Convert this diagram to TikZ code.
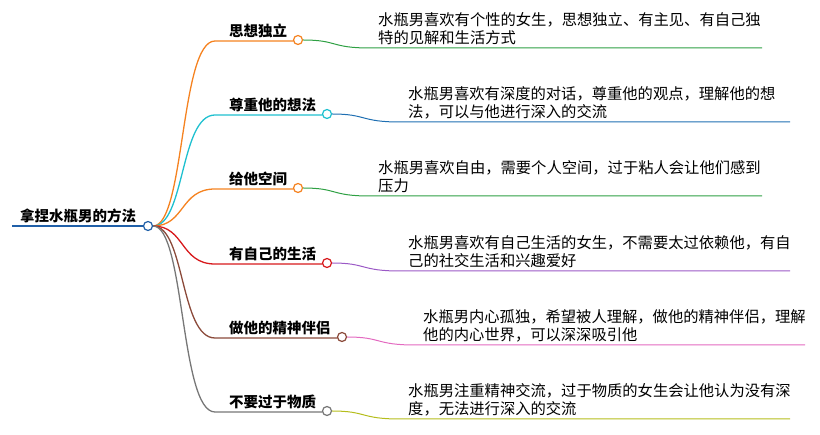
\documentclass[tikz,border=0pt]{standalone}
\usepackage{fontspec}
\setmainfont{Noto Sans CJK SC}
\definecolor{cor}{HTML}{F58220}
\definecolor{ccy}{HTML}{1EC0CF}
\definecolor{crd}{HTML}{D7191C}
\definecolor{cbr}{HTML}{8B4A3A}
\definecolor{cgy}{HTML}{777777}
\definecolor{cgr}{HTML}{2EA043}
\definecolor{cbl}{HTML}{1F6FB2}
\definecolor{cpu}{HTML}{9B59C6}
\definecolor{cpk}{HTML}{E36AC0}
\definecolor{col}{HTML}{B5BD1C}
\definecolor{croot}{HTML}{1F5FA8}
\begin{document}
\begin{tikzpicture}[x=1pt,y=-1pt,
  lab/.style={font=\fontsize{14.5}{14.5}\selectfont\bfseries, anchor=south west, inner sep=1pt},
  det/.style={font=\fontsize{15.3}{18}\selectfont, anchor=south west, align=left, inner sep=0pt},
  dot/.style={circle, draw=#1, fill=white, line width=1.2pt, minimum size=9pt, inner sep=0pt}]
\useasboundingbox (0,0) rectangle (820,435);
\node[font=\fontsize{14.5}{14.5}\selectfont\bfseries, anchor=south west, inner sep=1pt] (root) at (19,224) {拿捏水瓶男的方法};
\draw[croot, line width=2.5pt] (12,226) -- (144,226);
\node[dot=croot] (rc) at (148,226) {};
\foreach \i/\y/\cx/\bc/\lc/\ls/\le/\lab/\txt in {
 1/40/298/cor/cgr/370/762/思想独立/{水瓶男喜欢有个性的女生，思想独立、有主见、有自己独\\特的见解和生活方式},
 2/114/327/ccy/cbl/400/790/尊重他的想法/{水瓶男喜欢有深度的对话，尊重他的观点，理解他的想\\法，可以与他进行深入的交流},
 3/188/298/cor/cgr/370/762/给他空间/{水瓶男喜欢自由，需要个人空间，过于粘人会让他们感到\\压力},
 4/263/327/crd/cpu/400/790/有自己的生活/{水瓶男喜欢有自己生活的女生，不需要太过依赖他，有自\\己的社交生活和兴趣爱好},
 5/337/342/cbr/cpk/415/805/做他的精神伴侣/{水瓶男内心孤独，希望被人理解，做他的精神伴侣，理解\\他的内心世界，可以深深吸引他},
 6/411/327/cgy/col/400/790/不要过于物质/{水瓶男注重精神交流，过于物质的女生会让他认为没有深\\度，无法进行深入的交流}}{
  \node[lab] (b\i) at (228,\y-1) {\lab};
  \draw[\bc, line width=1.3pt] (rc.east) .. controls (185,226) and (180,\y+1) .. (215,\y+1) -- (\cx-4.5,\y+1);
  \node[dot=\bc] (c\i) at (\cx,\y) {};
  \draw[\lc, line width=1pt] (c\i.east) .. controls (\cx+40,\y) and (\ls-40,\y+8) .. (\ls,\y+8) -- (\le,\y+8);
  \node[det] (d\i) at (\ls+8,\y+5) {\txt};
}
\end{tikzpicture}
\end{document}
